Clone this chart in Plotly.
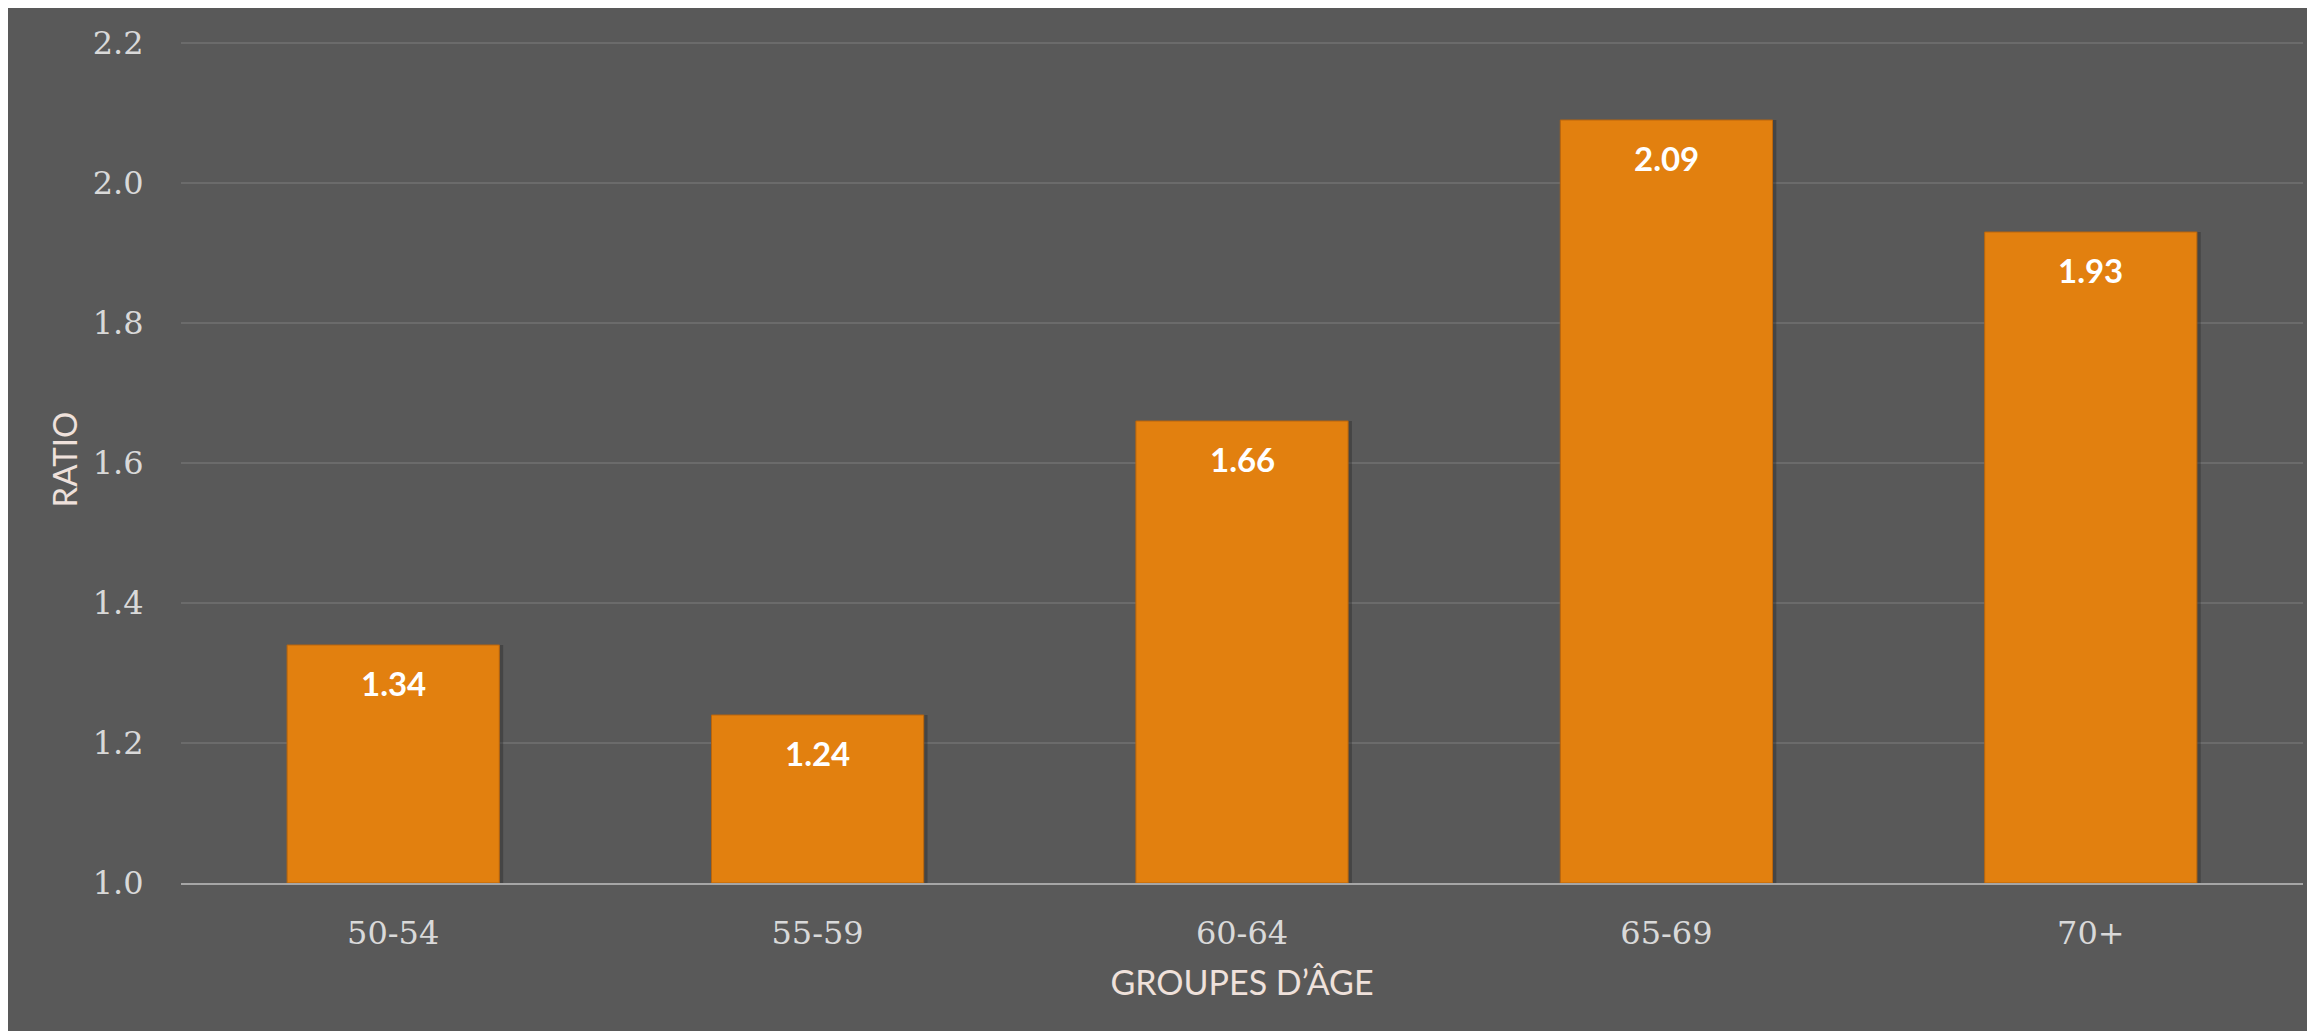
import plotly.graph_objects as go

categories = ["50-54", "55-59", "60-64", "65-69", "70+"]
ratios = [1.34, 1.24, 1.66, 2.09, 1.93]
value_labels = ["1.34", "1.24", "1.66", "2.09", "1.93"]
y_ticks = [1.0, 1.2, 1.4, 1.6, 1.8, 2.0, 2.2]
y_tick_labels = ["1.0", "1.2", "1.4", "1.6", "1.8", "2.0", "2.2"]

BG = "#595959"
BAR = "#E2800F"

fig = go.Figure()
# soft shadow to the right of each bar
fig.add_trace(go.Bar(
    x=categories,
    y=[r - 1.0 for r in ratios],
    base=1.0,
    width=0.5,
    offset=-0.25 + 0.009,
    marker=dict(color="rgba(40,40,40,0.4)", line=dict(width=0)),
    hoverinfo="skip",
))
fig.add_trace(go.Bar(
    x=categories,
    y=[r - 1.0 for r in ratios],
    base=1.0,
    width=0.5,
    offset=-0.25,
    marker=dict(color=BAR, line=dict(color="#B9650C", width=1)),
    hoverinfo="skip",
))

for c, r, t in zip(categories, ratios, value_labels):
    fig.add_annotation(x=c, y=r, text=t, showarrow=False, yanchor="middle",
                       yshift=-38,
                       font=dict(family="Lato", size=33, color="white", weight="bold"))

fig.update_layout(
    width=2315, height=1031,
    margin=dict(l=173, r=20, t=28, b=156),
    paper_bgcolor=BG,
    plot_bgcolor=BG,
    barmode="overlay",
    showlegend=False,
)

fig.update_xaxes(
    showgrid=False,
    showline=True, linecolor="#A6A6A6", linewidth=2,
    ticks="outside", ticklen=21, tickcolor="rgba(0,0,0,0)",
    tickfont=dict(family="DejaVu Serif", size=32, color="#D9D9D9"),
    title=dict(text="GROUPES D\u2019ÂGE", standoff=20,
               font=dict(family="Lato", size=34, color="#EFE1DB")),
)
fig.update_yaxes(
    range=[1.0, 2.21],
    tickvals=y_ticks, ticktext=y_tick_labels,
    showgrid=True, gridcolor="#6B6B6B", gridwidth=1.5,
    zeroline=False, showline=False,
    ticks="outside", ticklen=30, tickcolor="rgba(0,0,0,0)",
    tickfont=dict(family="DejaVu Serif", size=32, color="#D9D9D9"),
    title=dict(text="RATIO", standoff=5,
               font=dict(family="Lato", size=33, color="#EFE1DB")),
)

fig.write_html("out.html")
